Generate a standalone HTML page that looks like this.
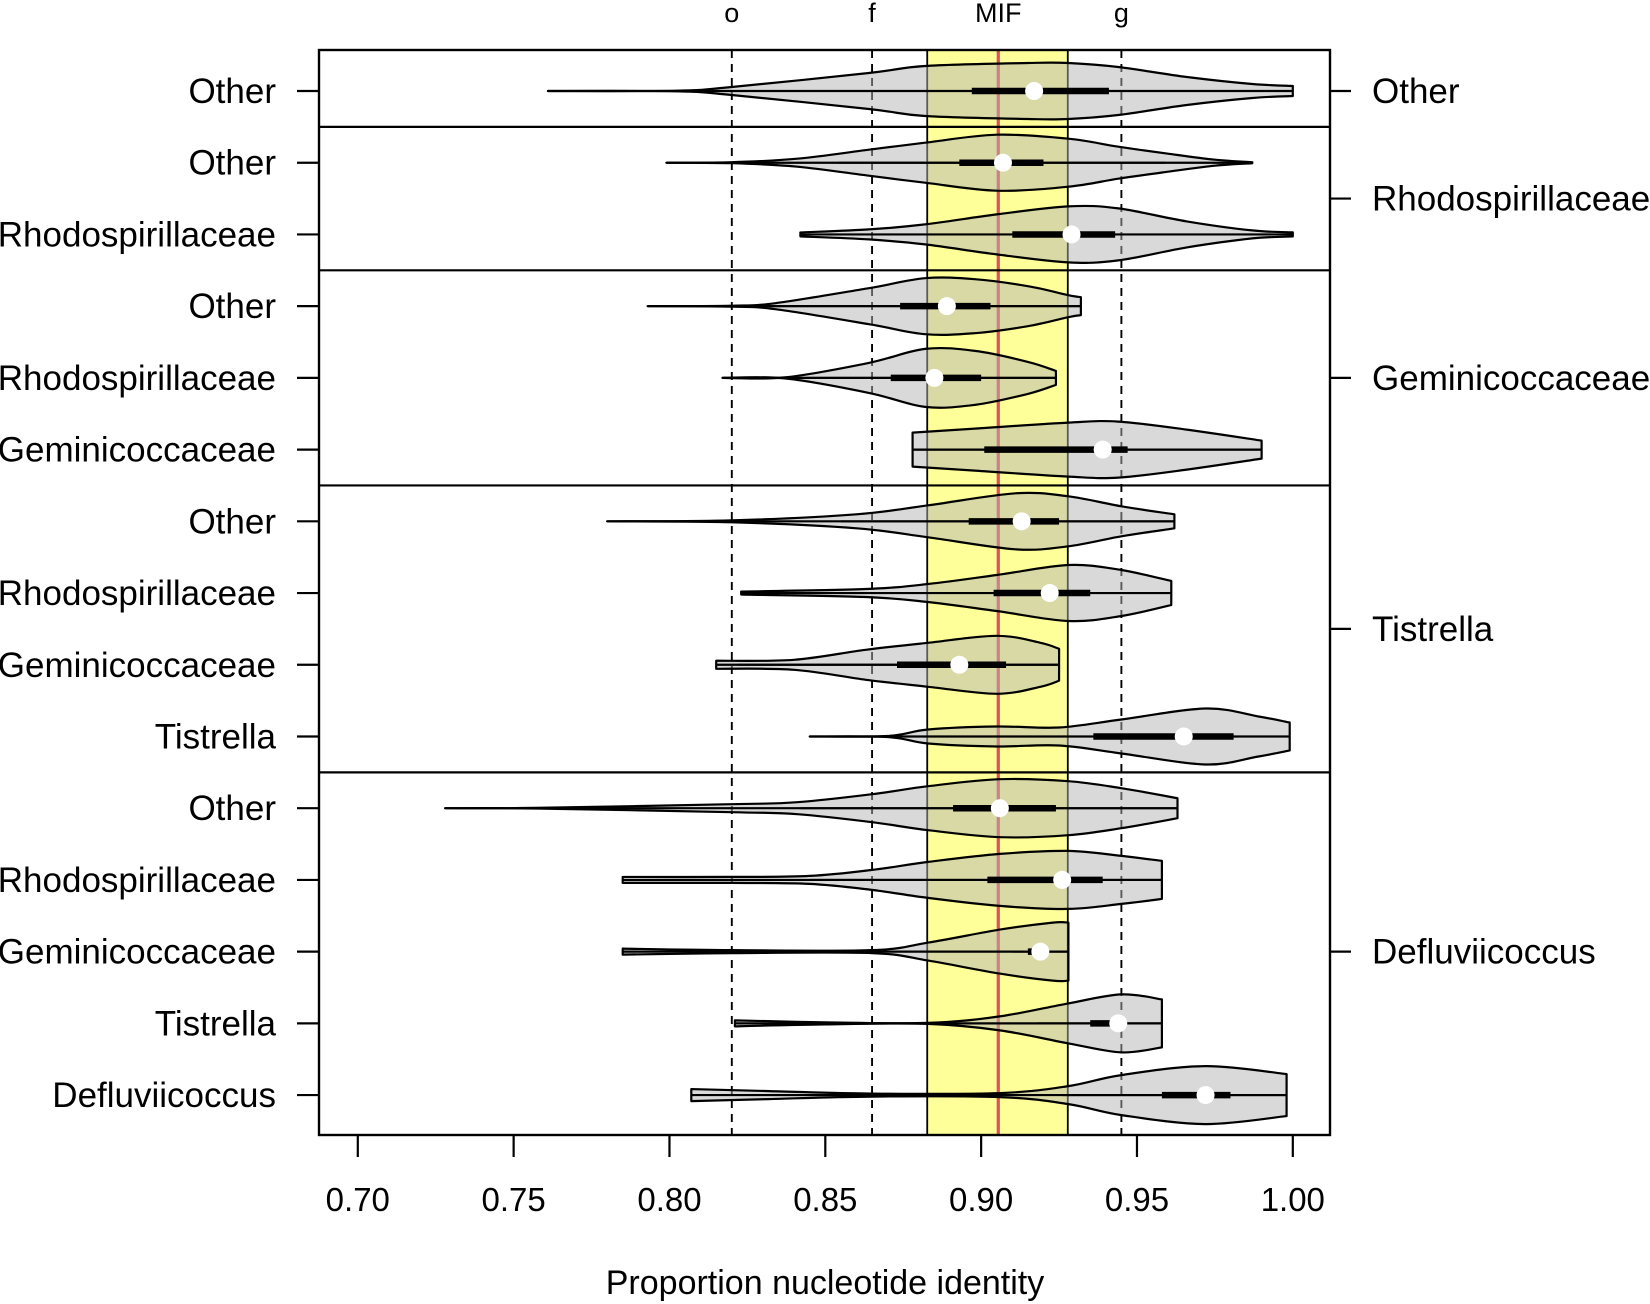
<!DOCTYPE html>
<html><head><meta charset="utf-8"><style>
html,body{margin:0;padding:0;background:#fff}
svg{display:block;font-family:"Liberation Sans",Arial,sans-serif}
</style></head><body>
<svg id="chart" width="1650" height="1304" viewBox="0 0 1650 1304" xmlns="http://www.w3.org/2000/svg"></svg>
<script>
// ---- data ----
const leftLabels = ["Other","Other","Rhodospirillaceae","Other","Rhodospirillaceae","Geminicoccaceae","Other","Rhodospirillaceae","Geminicoccaceae","Tistrella","Other","Rhodospirillaceae","Geminicoccaceae","Tistrella","Defluviicoccus"];
const groupLabels = ["Other","Rhodospirillaceae","Geminicoccaceae","Tistrella","Defluviicoccus"];
const groupSizes = [1,2,3,4,5];
const xTicks = [0.70,0.75,0.80,0.85,0.90,0.95,1.00];
const xTickLabels = ["0.70","0.75","0.80","0.85","0.90","0.95","1.00"];
const refLines = [0.820,0.865,0.945];
const refLabels = ["o","f","g"];
const mifValue = 0.9055;
const mifLow = 0.8827;
const mifHigh = 0.9278;
// violin profiles: [value, half-width]
const profiles = [
 [[0.761,0],[0.802,0.3],[0.820,4],[0.864,18],[0.882,25],[0.915,28],[0.928,28],[0.944,24],[0.966,14],[0.987,7],[1.0,5]],
 [[0.799,0],[0.820,0.5],[0.841,4],[0.864,13],[0.882,20],[0.905,28],[0.928,24],[0.944,16],[0.960,9],[0.975,3],[0.987,0.5]],
 [[0.842,2],[0.864,5],[0.882,10],[0.905,20],[0.928,28],[0.944,26],[0.966,13],[0.987,4],[1.0,2]],
 [[0.793,0],[0.820,0.5],[0.834,3],[0.864,18],[0.882,28],[0.898,27],[0.915,20],[0.928,11],[0.932,9]],
 [[0.817,0],[0.837,0.5],[0.864,15],[0.882,29],[0.898,27],[0.915,16],[0.924,7]],
 [[0.878,17],[0.898,21],[0.928,27],[0.944,28],[0.966,20],[0.990,9]],
 [[0.780,0],[0.820,1],[0.860,7],[0.883,16],[0.911,28],[0.928,25],[0.945,15],[0.962,7]],
 [[0.823,1.5],[0.863,4],[0.883,9],[0.905,18],[0.928,28],[0.945,23],[0.961,12]],
 [[0.815,4],[0.840,5],[0.863,15],[0.883,22],[0.905,29],[0.919,22],[0.925,16]],
 [[0.845,0],[0.870,0.5],[0.883,7],[0.905,10],[0.925,9],[0.945,17],[0.972,28],[0.989,20],[0.999,14]],
 [[0.728,0],[0.757,0.3],[0.820,4],[0.841,6],[0.865,14],[0.883,22],[0.906,29],[0.928,27],[0.945,20],[0.963,10]],
 [[0.785,3],[0.820,3],[0.845,4],[0.865,10],[0.883,18],[0.906,26],[0.928,29],[0.945,24],[0.958,19]],
 [[0.785,3],[0.820,1.5],[0.865,1.5],[0.883,9],[0.906,22],[0.923,29],[0.928,29]],
 [[0.821,3],[0.850,1],[0.883,0.5],[0.906,7],[0.928,20],[0.945,29],[0.958,24]],
 [[0.807,6],[0.832,4],[0.865,1.5],[0.906,2],[0.928,9],[0.945,20],[0.972,29],[0.998,21]]
];
const whiskerLow = [0.832,0.854,0.863,0.832,0.817,0.878,0.855,0.858,0.822,0.845,0.842,0.845,0.910,0.918,0.926];
const whiskerHigh = [1.0,0.959,0.990,0.932,0.924,0.990,0.962,0.961,0.925,0.999,0.963,0.958,0.928,0.958,0.998];
const q1 = [0.897,0.893,0.910,0.874,0.871,0.901,0.896,0.904,0.873,0.936,0.891,0.902,0.915,0.935,0.958];
const q3 = [0.941,0.920,0.943,0.903,0.900,0.947,0.925,0.935,0.908,0.981,0.924,0.939,0.920,0.942,0.980];
const medians = [0.917,0.907,0.929,0.889,0.885,0.939,0.913,0.922,0.893,0.965,0.906,0.926,0.919,0.944,0.972];

// ---- layout ----
const L=319,R=1330,T=50,B=1135;
const X = v => 357.8 + (v-0.7)*3116.7;
const Y = i => 91 + i*71.72;
const NS="http://www.w3.org/2000/svg";
const svg=document.getElementById('chart');
function mk(tag,attrs,parent){const e=document.createElementNS(NS,tag);for(const k in attrs)e.setAttribute(k,attrs[k]);(parent||svg).appendChild(e);return e;}

let band=mk('rect',{x:X(mifLow),y:T,width:X(mifHigh)-X(mifLow),height:B-T,fill:'#ffff99',stroke:'#000','stroke-width':1.8});


refLines.forEach((v,i)=>{
 let l=mk('line',{x1:X(v),x2:X(v),y1:T,y2:B,stroke:'#000','stroke-width':1.9,'stroke-dasharray':'8,6'});
 
 
 let t=mk('text',{x:X(v),y:22,'text-anchor':'middle','font-size':27});
 t.textContent=refLabels[i];
 
 
});
let mif=mk('line',{x1:X(mifValue),x2:X(mifValue),y1:T,y2:B,stroke:'#e0505a','stroke-width':3.2});


let mt=mk('text',{x:X(mifValue),y:22,'text-anchor':'middle','font-size':27});
mt.textContent='MIF';



function smooth(pts){
 let d='';
 for(let i=0;i<pts.length-1;i++){
  const p0=pts[Math.max(0,i-1)],p1=pts[i],p2=pts[i+1],p3=pts[Math.min(pts.length-1,i+2)];
  const c1=[p1[0]+(p2[0]-p0[0])/6,p1[1]+(p2[1]-p0[1])/6];
  const c2=[p2[0]-(p3[0]-p1[0])/6,p2[1]-(p3[1]-p1[1])/6];
  d+=` C${c1[0].toFixed(1)},${c1[1].toFixed(1)} ${c2[0].toFixed(1)},${c2[1].toFixed(1)} ${p2[0].toFixed(1)},${p2[1].toFixed(1)}`;
 }
 return d;
}
profiles.forEach((prof,i)=>{
 const cy=Y(i);
 const g=mk('g',{});
 
 
 const top=prof.map(p=>[X(p[0]),cy-p[1]]);
 const bot=prof.map(p=>[X(p[0]),cy+p[1]]).reverse();
 let d=`M${top[0][0]},${top[0][1]}`+smooth(top)+` L${bot[0][0]},${bot[0][1]}`+smooth(bot)+' Z';
 mk('path',{d:d,fill:'rgba(180,180,180,0.5)',stroke:'#000','stroke-width':2.2,'stroke-linejoin':'round'},g);
 mk('line',{x1:X(prof[0][0]),x2:X(prof[prof.length-1][0]),y1:cy,y2:cy,stroke:'#000','stroke-width':2.2},g);
 mk('line',{x1:X(whiskerLow[i]),x2:X(whiskerHigh[i]),y1:cy,y2:cy,stroke:'#000','stroke-width':2},g);
 mk('line',{x1:X(q1[i]),x2:X(q3[i]),y1:cy,y2:cy,stroke:'#000','stroke-width':6.5},g);
 mk('circle',{cx:X(medians[i]),cy:cy,r:9,fill:'#fff'},g);
});

let idx=0;
groupSizes.forEach((n,gi)=>{
 const first=idx, last=idx+n-1; idx+=n;
 if(gi<groupSizes.length-1){
  const yy=(Y(last)+Y(last+1))/2;
  let l=mk('line',{x1:L,x2:R,y1:yy,y2:yy,stroke:'#000','stroke-width':2.2});
  
  
 }
 const cy=(Y(first)+Y(last))/2;
 mk('line',{x1:R,x2:R+21,y1:cy,y2:cy,stroke:'#000','stroke-width':2.2});
 let t=mk('text',{x:1372,y:cy+12,'font-size':35});
 t.textContent=groupLabels[gi];
 
 
});
leftLabels.forEach((s,i)=>{
 mk('line',{x1:297,x2:L,y1:Y(i),y2:Y(i),stroke:'#000','stroke-width':2.2});
 let t=mk('text',{x:276,y:Y(i)+12,'text-anchor':'end','font-size':35});
 t.textContent=s;
 
 
});
let fr=mk('rect',{x:L,y:T,width:R-L,height:B-T,fill:'none',stroke:'#000','stroke-width':2.4});


xTicks.forEach((v,i)=>{
 mk('line',{x1:X(v),x2:X(v),y1:B,y2:1157,stroke:'#000','stroke-width':2.2});
 let t=mk('text',{x:X(v),y:1211,'text-anchor':'middle','font-size':33});
 t.textContent=xTickLabels[i];
 
 
});
let xt=mk('text',{x:825,y:1294,'text-anchor':'middle','font-size':34});
xt.textContent='Proportion nucleotide identity';


</script>
</body></html>
